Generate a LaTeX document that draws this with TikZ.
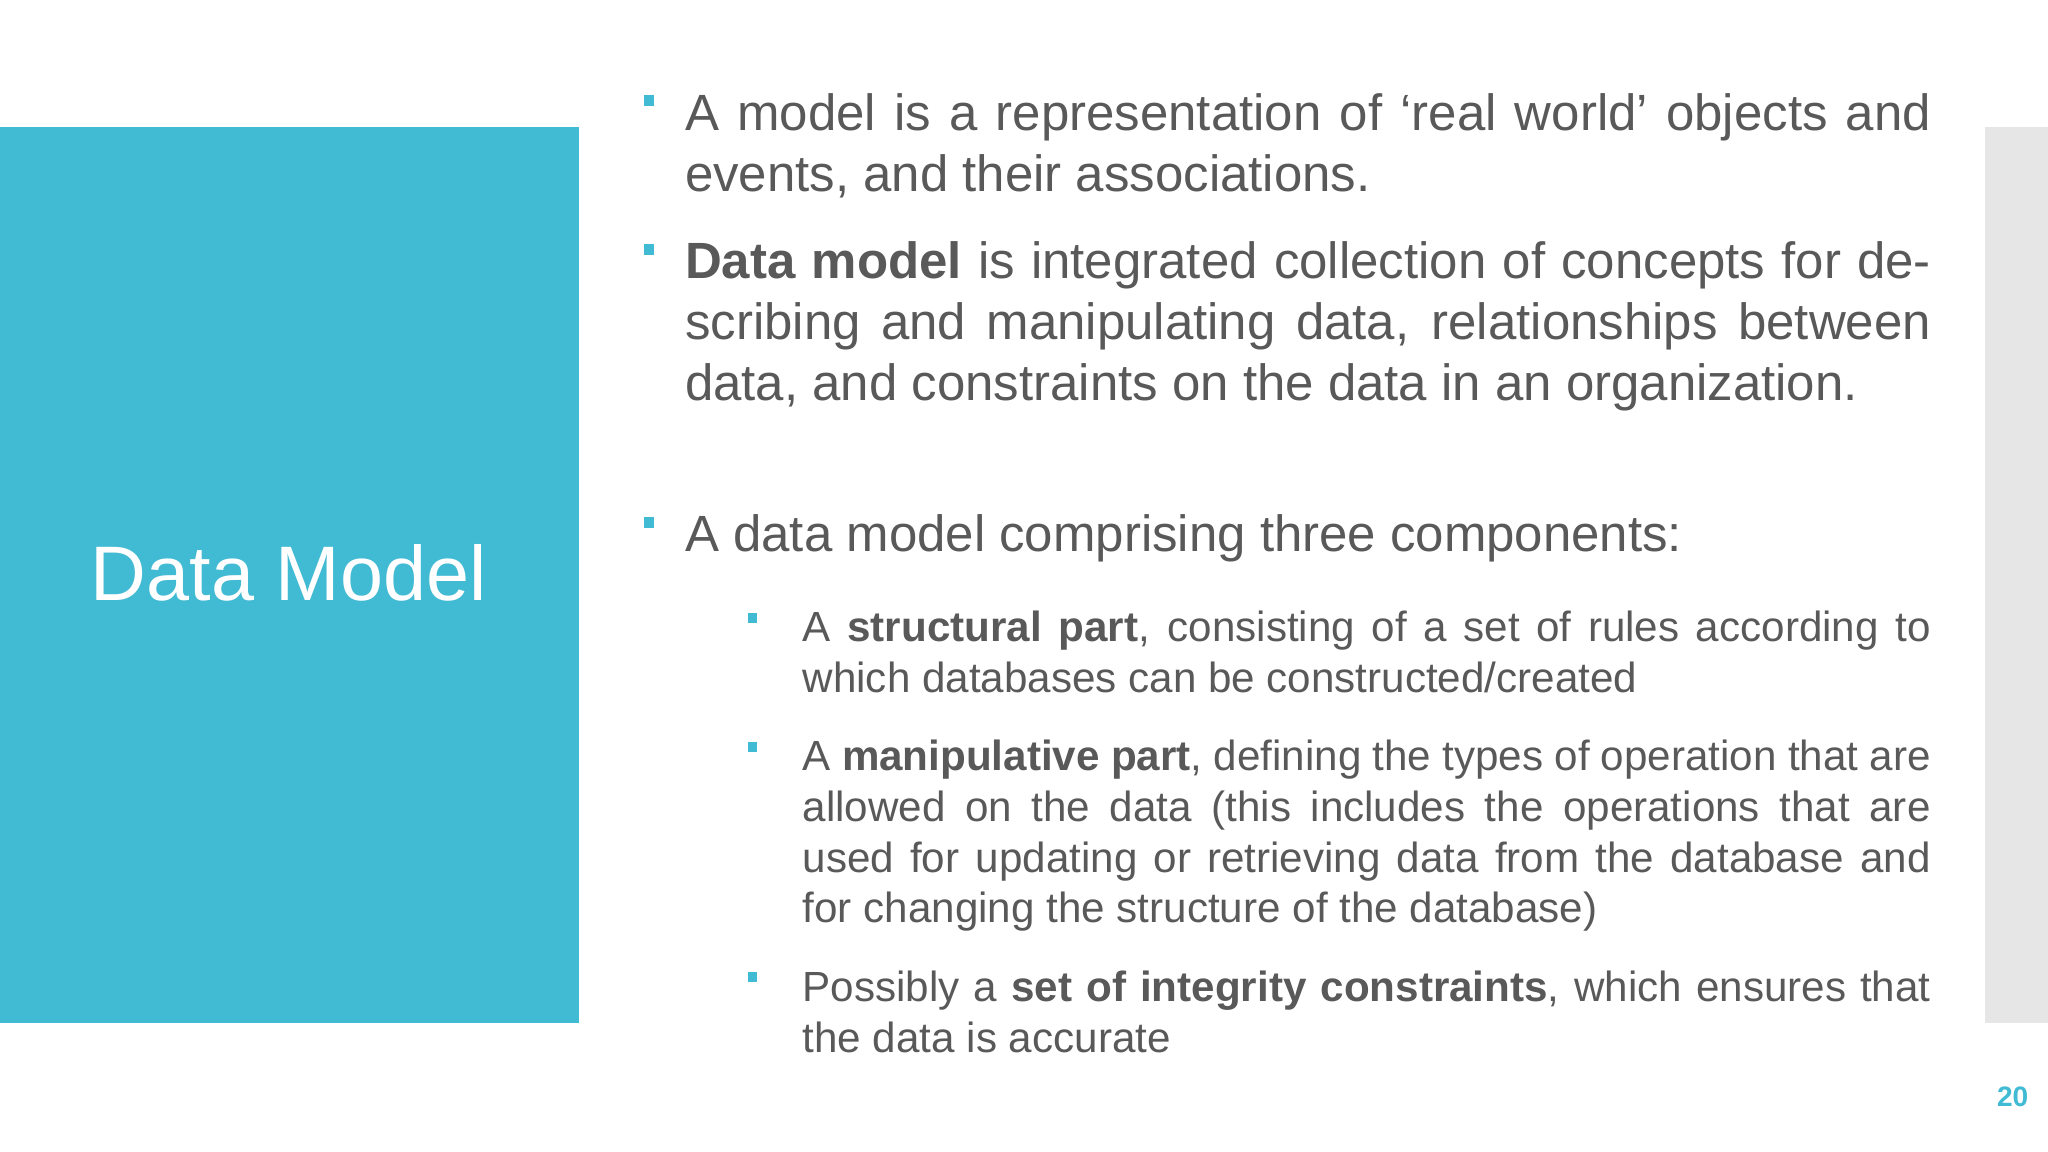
\documentclass[tikz,border=0pt]{standalone}
\usepackage{fontspec}
\setmainfont{Liberation Sans}
\definecolor{teal1}{HTML}{41BAD3}
\definecolor{txt}{HTML}{595959}
\definecolor{barg}{HTML}{E6E6E6}
\begin{document}
\begin{tikzpicture}[x=0.013061cm,y=-0.013061cm,
 mainp/.style={anchor=base west,inner sep=0,text width=12.46cm,align=justify,text=txt,font=\fontsize{14.5}{17.4}\selectfont},
 subp/.style={anchor=base west,inner sep=0,text width=11.28cm,align=justify,text=txt,font=\fontsize{12}{14.45}\selectfont},
 mbul/.style={fill=teal1,draw=none,minimum size=0.105cm,inner sep=0},
 sbul/.style={fill=teal1,draw=none,minimum size=0.095cm,inner sep=0}]
\useasboundingbox (0,0) rectangle (1568,882);
\fill[white] (0,0) rectangle (1568,882);
\fill[teal1] (0,97) rectangle (443,783);
\fill[barg] (1520,97) rectangle (1568,783);
\node[anchor=base,text=white,font=\fontsize{22}{26}\selectfont,inner sep=0] (title) at (221,460) {Data Model};
\node[mbul] (b1) at (497,77) {};
\node[mbul] (b2) at (497,191) {};
\node[mbul] (b3) at (497,400) {};
\node[sbul] (s1) at (576,473) {};
\node[sbul] (s2) at (576,572) {};
\node[sbul] (s3) at (576,748) {};
\node[mainp] (p1) at (524,100) {A model is a representation of ‘real world’ objects and events, and their associations.};
\node[mainp] (p2) at (524,213) {\textbf{Data model} is integrated collection of concepts for describing and manipulating data, relationships between data, and constraints on the data in an organization.};
\node[mainp] (p3) at (524,422) {A data model comprising three components:};
\node[subp] (q1) at (614,491) {A \textbf{structural part}, consisting of a set of rules according to which databases can be constructed/created};
\node[subp] (q2) at (614,590) {A \textbf{manipulative part}, defining the types of operation that are allowed on the data (this includes the operations that are used for updating or retrieving data from the database and for changing the structure of the database)};
\node[subp] (q3) at (614,767) {Possibly a \textbf{set of integrity constraints}, which ensures that the data is accurate};
\node[anchor=base,text=teal1,font=\fontsize{8}{10}\selectfont\bfseries,inner sep=0] (pg) at (1541,847) {20};
\end{tikzpicture}
\end{document}
